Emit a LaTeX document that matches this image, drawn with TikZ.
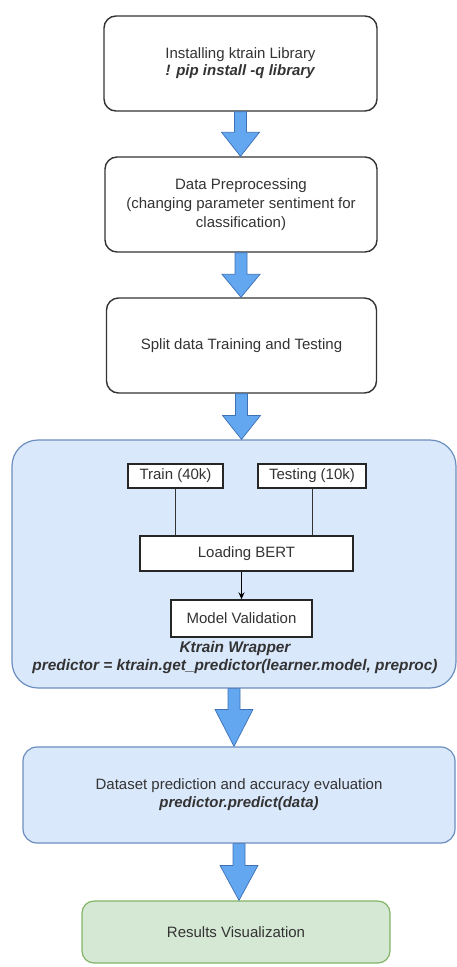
\documentclass[tikz,border=0pt]{standalone}
\usepackage{fontspec}
\setmainfont{Liberation Sans}
\usetikzlibrary{calc,arrows.meta}

\definecolor{boxtext}{RGB}{51,51,51}
\definecolor{wrapfill}{RGB}{218,232,252}
\definecolor{wrapline}{RGB}{108,142,191}
\definecolor{resfill}{RGB}{213,232,212}
\definecolor{resline}{RGB}{130,179,102}
\definecolor{flowfill}{RGB}{99,167,240}
\definecolor{flowline}{RGB}{62,112,180}

% fat blue arrow from the bottom of one box to the top of the next
\newcommand{\flowarrow}[3]{%
  \filldraw[flowstyle] let \p1=(#1.south), \p2=(#2.north) in
    (\x1-6pt,\y1) -- (\x1+6pt,\y1) -- (\x1+6pt,\y2+#3) -- (\x1+19pt,\y2+#3)
    -- (\x1,\y2) -- (\x1-19pt,\y2+#3) -- (\x1-6pt,\y2+#3) -- cycle;}

\begin{document}
\begin{tikzpicture}[x=1pt, y=-1pt,
    every node/.style={inner sep=0pt, align=center, text=boxtext,
      font=\fontsize{15pt}{17pt}\selectfont},
    stepbox/.style={draw=black!80, line width=1.4pt, fill=white, rounded corners=12pt},
    inbox/.style={draw=black!85, line width=1.4pt, fill=white},
    wrapbox/.style={draw=wrapline, line width=1.2pt, fill=wrapfill, rounded corners=26pt},
    predbox/.style={draw=wrapline, line width=1.2pt, fill=wrapfill, rounded corners=14pt},
    resbox/.style={draw=resline, line width=1.2pt, fill=resfill, rounded corners=12pt},
    flowstyle/.style={fill=flowfill, draw=flowline, line width=.7pt, line join=miter}]
    \useasboundingbox (0,0) rectangle (457,967);

    \node[stepbox, minimum width=273pt, minimum height=95pt] (install) at (240.5,63.5)
      {Installing ktrain Library\\ \textbf{\textit{! pip install -q library}}};
    \node[stepbox, minimum width=272pt, minimum height=95pt, font=\fontsize{15pt}{19pt}\selectfont]
      (prep) at (241,204.5)
      {Data Preprocessing\\ (changing parameter sentiment for\\ classification)};
    \node[stepbox, minimum width=270pt, minimum height=95pt] (split) at (241.5,345.5)
      {Split data Training and Testing};

    \node[wrapbox, minimum width=444pt, minimum height=248pt] (ktrain) at (234,564) {};
    \node[inbox, minimum width=95pt, minimum height=24pt] (train) at (175.5,476) {Train (40k)};
    \node[inbox, minimum width=108pt, minimum height=24pt] (test) at (312,476) {Testing (10k)};
    \node[inbox, minimum width=213pt, minimum height=35pt] (bert) at (246.5,553.5) {Loading BERT};
    \node[inbox, minimum width=141pt, minimum height=37pt] (model) at (241.5,618.5) {Model Validation};
    \node[font=\bfseries\itshape\fontsize{15.4pt}{18pt}\selectfont] (wrapper) at (235,658)
      {Ktrain Wrapper\\ predictor = ktrain.get\_predictor(learner.model, preproc)};

    \node[predbox, minimum width=432pt, minimum height=96pt, font=\fontsize{15pt}{18pt}\selectfont]
      (predict) at (239,795)
      {Dataset prediction and accuracy evaluation\\ \textbf{\textit{predictor.predict(data)}}};
    \node[resbox, minimum width=308pt, minimum height=62pt] (results) at (236,932)
      {Results Visualization};

    \draw[line width=.9pt, black!80] (train.south) -- (train.south |- bert.north);
    \draw[line width=.9pt, black!80] (test.south) -- (test.south |- bert.north);
    \draw[line width=.9pt, -{Stealth[length=7pt, width=6pt]}] (model.north |- bert.south) -- (model.north);

    \flowarrow{install}{prep}{24pt}
    \flowarrow{prep}{split}{23pt}
    \flowarrow{split}{ktrain}{24pt}
    \flowarrow{ktrain}{predict}{37pt}
    \flowarrow{predict}{results}{35pt}

  \end{tikzpicture}
\end{document}
